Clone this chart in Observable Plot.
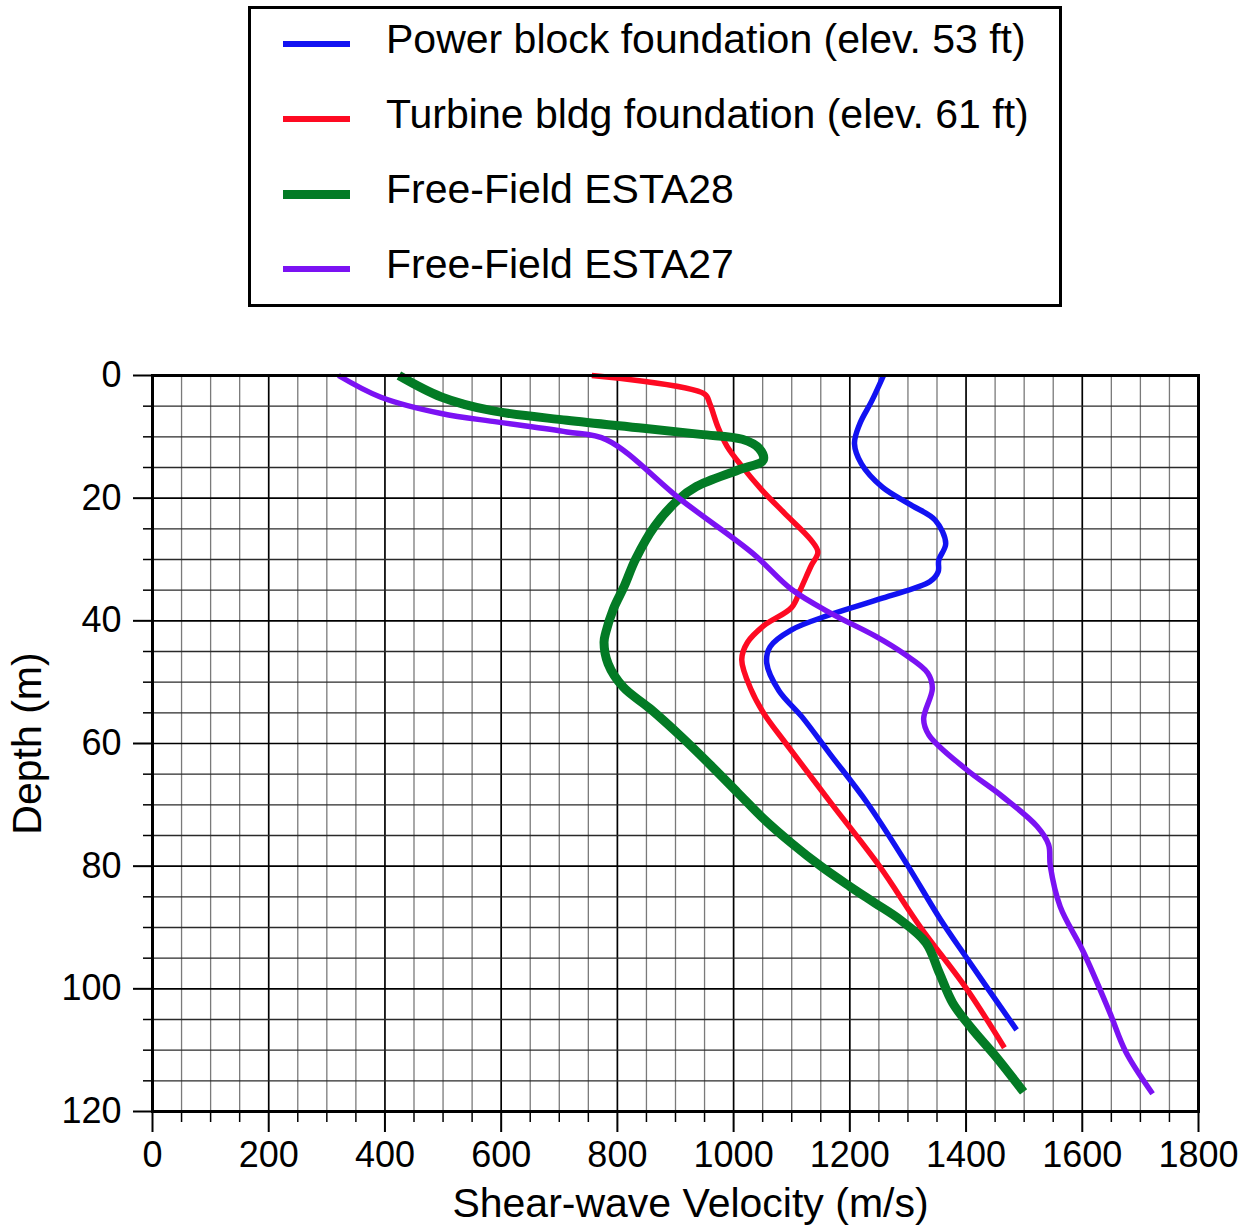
<!DOCTYPE html>
<html>
<head>
<meta charset="utf-8">
<script src="https://cdn.jsdelivr.net/npm/d3@7"></script>
<script src="https://cdn.jsdelivr.net/npm/@observablehq/plot@0.6"></script>
<style>
  html, body { margin: 0; padding: 0; background: #fff; }
  body { width: 1257px; height: 1226px; position: relative; overflow: hidden;
         font-family: "Liberation Sans", Arial, Helvetica, sans-serif; }
  #legend { position: absolute; left: 248px; top: 6px; width: 808px; height: 295px;
            border: 3px solid #000; background: #fff; }
  .swatch { position: absolute; left: 32px; width: 67px; }
  .ltext { position: absolute; left: 135px; height: 42px; line-height: 42px;
           font-size: 41px; color: #000; white-space: nowrap; }
  #chart { position: absolute; left: 0; top: 320px; }
</style>
</head>
<body>
<div id="legend"></div>
<div id="chart"></div>
<script>
// ---- Data ----
const seriesNames = [
  "Power block foundation (elev. 53 ft)",
  "Turbine bldg foundation (elev. 61 ft)",
  "Free-Field ESTA28",
  "Free-Field ESTA27"
];
const seriesColors = ["#1212f2", "#fe0a22", "#037b25", "#7b12f3"];
const seriesWidths = [5.5, 5.5, 9, 5.5];

// Power block foundation: depth (m) and shear-wave velocity (m/s)
const powerDepth = [0, 4.1, 7.9, 11.1, 14.4, 18.2, 21.1, 23.6, 27.4, 30.1, 32.0, 33.6, 36.3, 39.0, 41.5, 44.2, 46.9, 51.4, 55.7, 61.6, 69.7, 79.5, 88.7, 95.1, 106.7];
const powerVel   = [1258, 1238, 1217, 1208, 1220, 1256, 1305, 1347, 1365, 1353, 1352, 1338, 1256, 1166, 1099, 1063, 1057, 1078, 1118, 1165, 1230, 1297, 1356, 1402, 1487];

// Turbine bldg foundation
const turbineDepth = [0, 3.0, 4.6, 8.4, 11.6, 14.9, 18.6, 22.4, 26.8, 28.8, 31.1, 34.9, 37.8, 40.8, 43.5, 46.3, 51.2, 55.1, 60, 70, 80, 90, 100, 109.6];
const turbineVel   = [756, 950, 959, 973, 989, 1015, 1048, 1087, 1133, 1145, 1133, 1115, 1100, 1052, 1024, 1014, 1030, 1052, 1090, 1170, 1251, 1322, 1401, 1466];

// Free-Field ESTA28
const esta28Depth = [0, 3.5, 5.7, 7.3, 8.6, 9.6, 10.4, 11.9, 13.8, 15.4, 18.1, 20.3, 24.6, 30.0, 34.3, 38.1, 41.9, 43.5, 47, 50.8, 54.3, 58.9, 63.5, 68, 72.4, 76.2, 80, 83.3, 86, 88.7, 92.5, 97.4, 102.3, 106.6, 111, 116.8];
const esta28Vel   = [424, 497, 582, 713, 845, 943, 1015, 1044, 1051, 1008, 936, 904, 864, 831, 812, 793, 780, 777, 784, 810, 856, 910, 960, 1007, 1053, 1099, 1150, 1200, 1243, 1286, 1331, 1354, 1377, 1411, 1451, 1499];

// Free-Field ESTA27
const esta27Depth = [0, 3.5, 6.2, 7.6, 9.2, 10.5, 20.3, 29, 34.9, 38.9, 42.5, 45.3, 48.5, 51, 56, 58.6, 64.2, 68.6, 73.5, 76.5, 80, 86.6, 94, 103.8, 110.3, 117.1];
const esta27Vel   = [320, 392, 497, 595, 713, 782, 910, 1033, 1100, 1170, 1244, 1292, 1334, 1342, 1327, 1336, 1400, 1462, 1522, 1542, 1545, 1562, 1602, 1647, 1675, 1721];

// Axis ticks
const xMajor = [0, 200, 400, 600, 800, 1000, 1200, 1400, 1600, 1800];
const xMinor = d3.range(0, 1801, 50).filter(v => v % 200 !== 0);
const yMajor = [0, 20, 40, 60, 80, 100, 120];
const yMinor = d3.range(0, 121, 5).filter(v => v % 20 !== 0);
const xLabel = "Shear-wave Velocity (m/s)";
const yLabel = "Depth (m)";

// ---- Build ----
const depths = [powerDepth, turbineDepth, esta28Depth, esta27Depth];
const vels = [powerVel, turbineVel, esta28Vel, esta27Vel];
const tables = vels.map((vs, k) => vs.map((v, i) => ({v, d: depths[k][i]})));

const font = '"Liberation Sans", Arial, Helvetica, sans-serif';

const lines = tables.map((t, k) => Plot.line(t, {
  x: "v", y: "d", stroke: seriesColors[k], strokeWidth: seriesWidths[k],
  curve: "catmull-rom", strokeLinecap: "butt", strokeLinejoin: "round"
}));

const chart = Plot.plot({
  width: 1257,
  height: 906,
  marginLeft: 152,
  marginRight: 59,
  marginTop: 55,
  marginBottom: 115,
  x: {domain: [0, 1800]},
  y: {domain: [0, 120], reverse: true},
  style: {fontFamily: font, fontSize: "36px", color: "#000", background: "#fff", overflow: "visible"},
  marks: [
    Plot.ruleX(xMinor, {stroke: "#7a7a7a", strokeWidth: 1.3}),
    Plot.ruleX(xMajor, {stroke: "#000", strokeWidth: 1.7}),
    Plot.ruleY(yMinor, {stroke: "#2a2a2a", strokeWidth: 1.3}),
    Plot.ruleY(yMajor, {stroke: "#000", strokeWidth: 1.7}),
    ...lines,
    Plot.frame({stroke: "#000", strokeWidth: 3}),
    Plot.axisX({ticks: xMajor, tickSize: 21, tickPadding: 9, tickFormat: d => String(d), label: null, strokeWidth: 2}),
    Plot.axisX({ticks: xMinor, tickSize: 11, tickFormat: () => "", label: null, strokeWidth: 1.5}),
    Plot.axisY({ticks: yMajor, tickSize: 19, tickPadding: 12, tickFormat: d => String(d), label: null, strokeWidth: 2}),
    Plot.axisY({ticks: yMinor, tickSize: 9, tickFormat: () => "", label: null, strokeWidth: 1.5}),
    Plot.text([xLabel], {frameAnchor: "bottom", textAnchor: "middle", lineAnchor: "middle", dx: 15, dy: 92, text: d => d, fontSize: 41}),
    Plot.text([yLabel], {frameAnchor: "left", textAnchor: "middle", lineAnchor: "middle", dx: -125, rotate: -90, text: d => d, fontSize: 41})
  ]
});
document.getElementById("chart").appendChild(chart);

// ---- Legend ----
const legend = document.getElementById("legend");
const rowCenters = [35, 110, 185, 260];
seriesNames.forEach((name, k) => {
  const sw = document.createElement("div");
  sw.className = "swatch";
  sw.style.top = (rowCenters[k] - seriesWidths[k] / 2) + "px";
  sw.style.height = seriesWidths[k] + "px";
  sw.style.background = seriesColors[k];
  legend.appendChild(sw);
  const tx = document.createElement("div");
  tx.className = "ltext";
  tx.style.top = (rowCenters[k] - 5 - 21) + "px";
  tx.textContent = name;
  legend.appendChild(tx);
});
</script>
</body>
</html>
